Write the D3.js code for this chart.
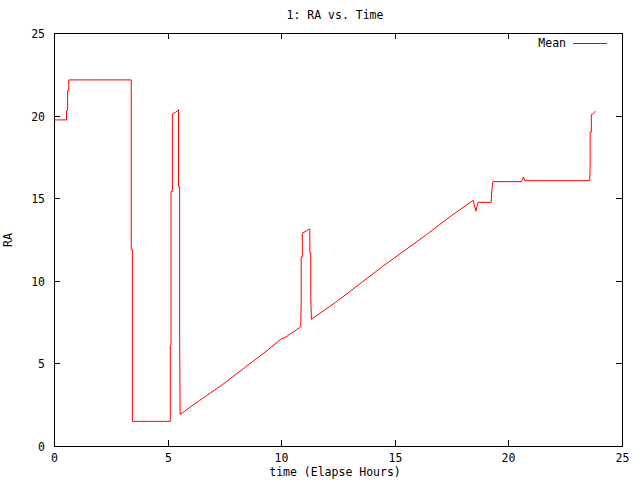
<!DOCTYPE html>
<html><head><meta charset="utf-8">
<script src="https://cdn.jsdelivr.net/npm/d3@7"></script>
<style>body{margin:0;background:#fff}svg{display:block}text{font-family:"DejaVu Sans Mono",monospace;font-size:11.5px;fill:#000}</style>
</head><body><svg id="c" width="640" height="480"></svg>
<script>
const timeHours = [0,0.55,0.55,0.60,0.60,0.65,0.65,3.40,3.40,3.45,3.45,5.12,5.12,5.15,5.15,5.21,5.21,5.35,5.48,5.48,5.53,5.53,5.55,6.4,7.4,8.4,9.4,10.02,10.15,10.86,10.88,10.88,10.93,10.93,10.95,11.10,11.22,11.26,11.26,11.30,11.30,11.33,12.4,13.4,14.4,15.4,16.4,17.4,18.45,18.57,18.66,19.24,19.28,19.28,19.32,20.58,20.66,20.73,23.58,23.60,23.60,23.65,23.65,23.69,23.83];
const raMean    = [19.74,19.74,20.3,20.3,21.5,21.5,22.16,22.16,11.88,11.88,1.49,1.49,6.1,6.1,15.4,15.4,20.1,20.2,20.35,15.7,15.7,6.5,1.91,2.75,3.7,4.75,5.8,6.51,6.55,7.21,8.66,11.44,11.44,12.9,12.9,13.0,13.13,13.13,11.7,11.7,9.0,7.67,8.7,9.75,10.8,11.8,12.8,13.85,14.87,14.22,14.75,14.75,15.61,15.61,16.0,16.0,16.28,16.06,16.06,17.04,19.0,19.0,20.06,20.06,20.27];
const xTicks = [0,5,10,15,20,25];
const yTicks = [0,5,10,15,20,25];
const seriesName = "Mean";
const titleText = "1: RA vs. Time";
const xLabel = "time (Elapse Hours)";
const yLabel = "RA";

const svg = d3.select("#c");
const L=54,R=622,T=33,B=446;
const x = d3.scaleLinear().domain([0,25]).range([L,R]);
const y = d3.scaleLinear().domain([0,25]).range([B,T]);
const tk=6;

const g = svg.append("g");
xTicks.forEach(v=>{
  const px=Math.round(x(v))+0.5;
  g.append("line").attr("x1",px).attr("x2",px).attr("y1",B).attr("y2",B-tk).attr("stroke","#000");
  g.append("line").attr("x1",px).attr("x2",px).attr("y1",T).attr("y2",T+tk).attr("stroke","#000");
  g.append("text").attr("x",px).attr("y",B+16).attr("text-anchor","middle").text(v);
});
yTicks.forEach(v=>{
  const py=Math.round(y(v))+0.5;
  g.append("line").attr("x1",L).attr("x2",L+tk).attr("y1",py).attr("y2",py).attr("stroke","#000");
  g.append("line").attr("x1",R-tk).attr("x2",R).attr("y1",py).attr("y2",py).attr("stroke","#000");
  g.append("text").attr("x",L-9).attr("y",py+4).attr("text-anchor","end").text(v);
});
g.append("rect").attr("x",L+0.5).attr("y",T+0.5).attr("width",R-L).attr("height",B-T)
 .attr("fill","none").attr("stroke","#000");

const pts = timeHours.map((t,i)=>[t,raMean[i]]);
const line = d3.line().x(d=>x(d[0])).y(d=>y(d[1]));
g.append("path").attr("d",line(pts)).attr("fill","none").attr("stroke","#ff0000").attr("stroke-width",1);

g.append("text").attr("x",566).attr("y",47).attr("text-anchor","end").text(seriesName);
g.append("line").attr("x1",573).attr("x2",607).attr("y1",43.5).attr("y2",43.5).attr("stroke","#ff0000");

svg.append("text").attr("x",335).attr("y",19).attr("text-anchor","middle").text(titleText);
svg.append("text").attr("x",335).attr("y",476).attr("text-anchor","middle").text(xLabel);
svg.append("text").attr("transform","translate(12,240) rotate(-90)").attr("text-anchor","middle").text(yLabel);
</script></body></html>
